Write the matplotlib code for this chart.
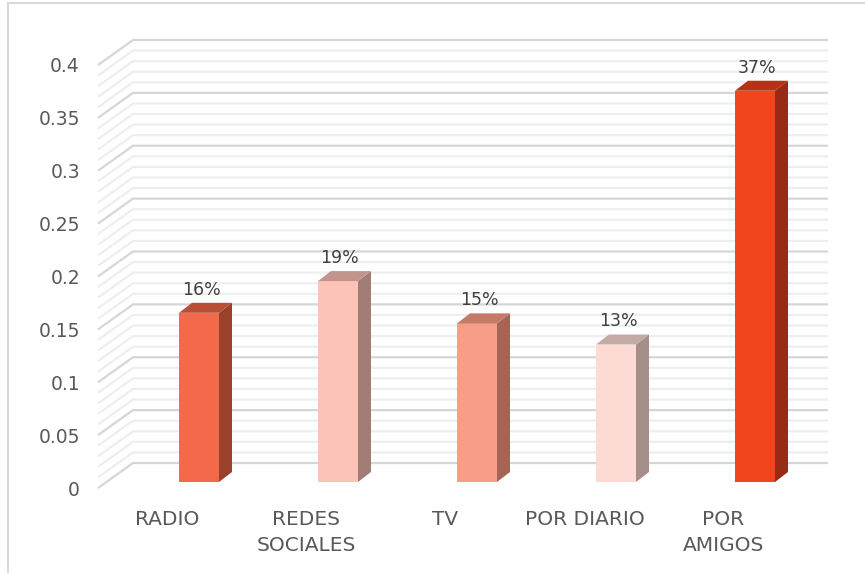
import numpy as np
import matplotlib.pyplot as plt
from matplotlib.patches import Polygon, Rectangle

# data
categories = ['RADIO', 'REDES\nSOCIALES', 'TV', 'POR DIARIO', 'POR\nAMIGOS']
values = [0.16, 0.19, 0.15, 0.13, 0.37]
value_labels = ['16%', '19%', '15%', '13%', '37%']
yticks = [0, 0.05, 0.1, 0.15, 0.2, 0.25, 0.3, 0.35, 0.4]
ytick_labels = ['0', '0.05', '0.1', '0.15', '0.2', '0.25', '0.3', '0.35', '0.4']

# colours of the faces of each bar (front, side, top)
front_colors = ['#F4694A', '#FCC4B9', '#F89D88', '#FEDAD4', '#F2441D']
side_colors = ['#9A412C', '#A27D76', '#A46555', '#A68F8B', '#982B13']
top_colors = ['#B84F36', '#C2958C', '#C47A68', '#C5A9A4', '#B53218']

TXT = '#595959'
plt.rcParams['font.family'] = ['DejaVu Sans']

W, H = 865, 573
fig = plt.figure(figsize=(W / 100, H / 100), dpi=100)
ax = fig.add_axes([98 / W, (H - 488) / H, 695 / W, 423 / H])
ax.set_xlim(-0.5, len(categories) - 0.5)
ax.set_ylim(0, 0.4)

# pixel -> data scale, used for the fake 3d depth
px = 695 / 5
py = 423 / 0.4
DX, DY = 35 / px, 25 / py          # depth of the wall box
bx, bw = 11.5 / px, 40 / px        # bar front face shift and width
bbase = 6 / py                     # bar floor sits slightly back
sdx, sdy = 13 / px, 10 / py        # bar depth

# back wall + side wall gridlines
minor = np.arange(0, 0.4001, 0.01)
x0, x1 = -0.5, len(categories) - 0.5
for y in minor:
    is_major = np.isclose(y * 20, round(y * 20))
    c = '#D6D6D6' if is_major else '#EEEEEE'
    ax.plot([x0, x0 + DX, x1 + DX], [y, y + DY, y + DY], color=c, lw=1.6,
            solid_capstyle='butt', clip_on=False, zorder=1)

# bars
for i, v in enumerate(values):
    l = i + bx
    r = l + bw
    b = bbase
    t = bbase + v
    ax.add_patch(Polygon([(l, b), (r, b), (r, t), (l, t)], closed=True,
                         facecolor=front_colors[i], edgecolor='none', zorder=3))
    ax.add_patch(Polygon([(r, b), (r + sdx, b + sdy), (r + sdx, t + sdy), (r, t)],
                         closed=True, facecolor=side_colors[i], edgecolor='none', zorder=3))
    ax.add_patch(Polygon([(l, t), (r, t), (r + sdx, t + sdy), (l + sdx, t + sdy)],
                         closed=True, facecolor=top_colors[i], edgecolor='none', zorder=3))
    ax.annotate(value_labels[i], (l + bw / 2 + 2 / px, t + sdy), xytext=(0, 3),
                textcoords='offset points', ha='center', va='bottom',
                fontsize=12.5, color='#404040', zorder=4)

ax.set_yticks(yticks)
ax.set_yticklabels(ytick_labels)
ax.set_xticks(range(len(categories)))
ax.set_xticklabels(categories, linespacing=1.45)
ax.tick_params(axis='y', length=0, pad=13, labelsize=13.5, labelcolor=TXT)
ax.tick_params(axis='x', length=0, pad=16, labelsize=14.5, labelcolor=TXT)
for s in ax.spines.values():
    s.set_visible(False)
ax.set_facecolor('none')

# chart border
fig.add_artist(Rectangle((8 / W, -0.1), 2, (H - 3.5) / H + 0.1, fill=False,
                         edgecolor='#D9D9D9', lw=1.5, transform=fig.transFigure))

fig.savefig('out.png', dpi=100)
